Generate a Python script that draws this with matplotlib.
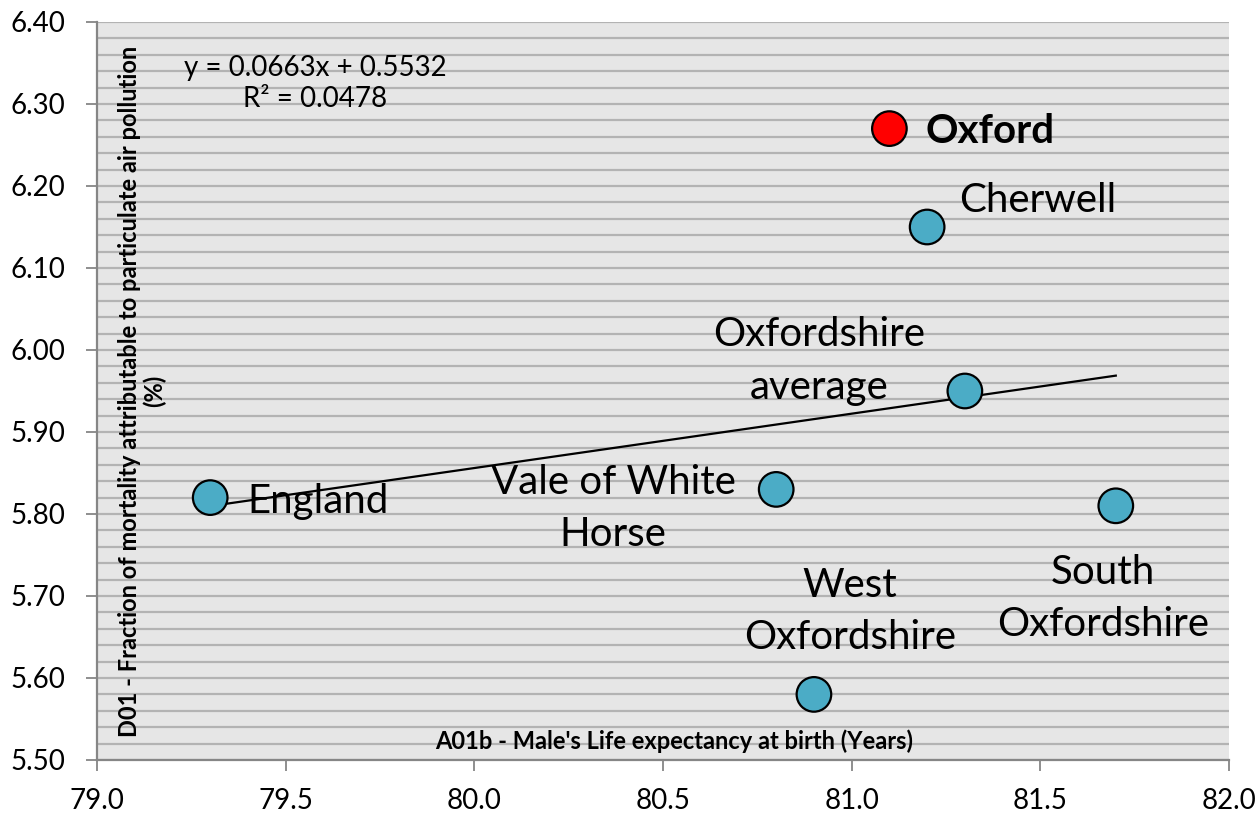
import numpy as np
import matplotlib
matplotlib.use("Agg")
import matplotlib.pyplot as plt
from matplotlib.ticker import MultipleLocator, FormatStrFormatter

plt.rcParams['font.family'] = ['Lato', 'DejaVu Sans']

names = ["Oxford", "Cherwell", "Oxfordshire\naverage", "England",
         "Vale of White\nHorse", "West\nOxfordshire", "South\nOxfordshire"]
life_exp = [81.1, 81.2, 81.3, 79.3, 80.8, 80.9, 81.7]
pm_frac = [6.27, 6.15, 5.95, 5.82, 5.83, 5.58, 5.81]
colors = ["#FF0000", "#4BACC6", "#4BACC6", "#4BACC6", "#4BACC6", "#4BACC6", "#4BACC6"]

# label offsets in pixels (dx, dy) and alignment
label_layout = {
    "Oxford": ((36, -3), "left", True),
    "Cherwell": ((32, 26), "left", False),
    "Oxfordshire\naverage": ((-146, 30), "center", False),
    "England": ((37, -4), "left", False),
    "Vale of White\nHorse": ((-163, -19), "center", False),
    "West\nOxfordshire": ((36, 83), "center", False),
    "South\nOxfordshire": ((-13, -93), "center", False),
}

fig = plt.figure(figsize=(12.59, 8.14), dpi=100)
ax = fig.add_axes([97/1259, 1-760/814, (1229-97)/1259, (760-22)/814])
ax.set_facecolor("#E6E6E6")
ax.set_xlim(79.0, 82.0)
ax.set_ylim(5.50, 6.40)

ax.yaxis.set_major_locator(MultipleLocator(0.1))
ax.yaxis.set_minor_locator(MultipleLocator(0.02))
ax.xaxis.set_major_locator(MultipleLocator(0.5))
ax.yaxis.set_major_formatter(FormatStrFormatter('%.2f'))
ax.xaxis.set_major_formatter(FormatStrFormatter('%.1f'))
ax.grid(True, which='both', axis='y', color="#B3B3B3", linewidth=1.6)
ax.set_axisbelow(True)
ax.tick_params(axis='y', which='minor', length=0)
ax.tick_params(axis='both', which='major', length=8, width=1.3, color="#868686",
               labelsize=20)
ax.tick_params(axis='y', which='major', pad=15)
ax.tick_params(axis='x', which='major', pad=12)
for s in ['top', 'right']:
    ax.spines[s].set_visible(False)
for s in ['left', 'bottom']:
    ax.spines[s].set_color("#868686")
    ax.spines[s].set_linewidth(1.6)

# trendline
slope, intercept = np.polyfit(life_exp, pm_frac, 1)
xs = np.array([min(life_exp), max(life_exp)])
ax.plot(xs, slope*xs + intercept, color="black", linewidth=1.6, zorder=2)
r = np.corrcoef(life_exp, pm_frac)[0, 1]
ax.text(0.193, 0.917, f"y = {slope:.4f}x + {intercept:.4f}\nR\u00b2 = {r**2:.4f}",
        transform=ax.transAxes, ha='center', va='center', fontsize=20,
        multialignment='center', linespacing=1.25)

ax.scatter(life_exp, pm_frac, s=620, c=colors, edgecolors="black", linewidths=1.6, zorder=3)

for n, x, y in zip(names, life_exp, pm_frac):
    (dx, dy), ha, bold = label_layout[n]
    ax.annotate(n, (x, y), xytext=(dx*0.72, dy*0.72), textcoords='offset points',
                ha=ha, va='center', fontsize=29,
                fontweight='bold' if bold else 'normal', linespacing=1.5,
                multialignment='center')

ax.text(0.04, 0.5, "D01 - Fraction of mortality attributable to particulate air pollution\n(%)",
        transform=ax.transAxes, rotation=90, ha='center', va='center',
        fontsize=17, fontweight='bold', multialignment='center', linespacing=1.1)
ax.text(0.51, 0.026, "A01b - Male's Life expectancy at birth (Years)",
        transform=ax.transAxes, ha='center', va='center', fontsize=17, fontweight='bold')

fig.savefig("out.png", dpi=100)
